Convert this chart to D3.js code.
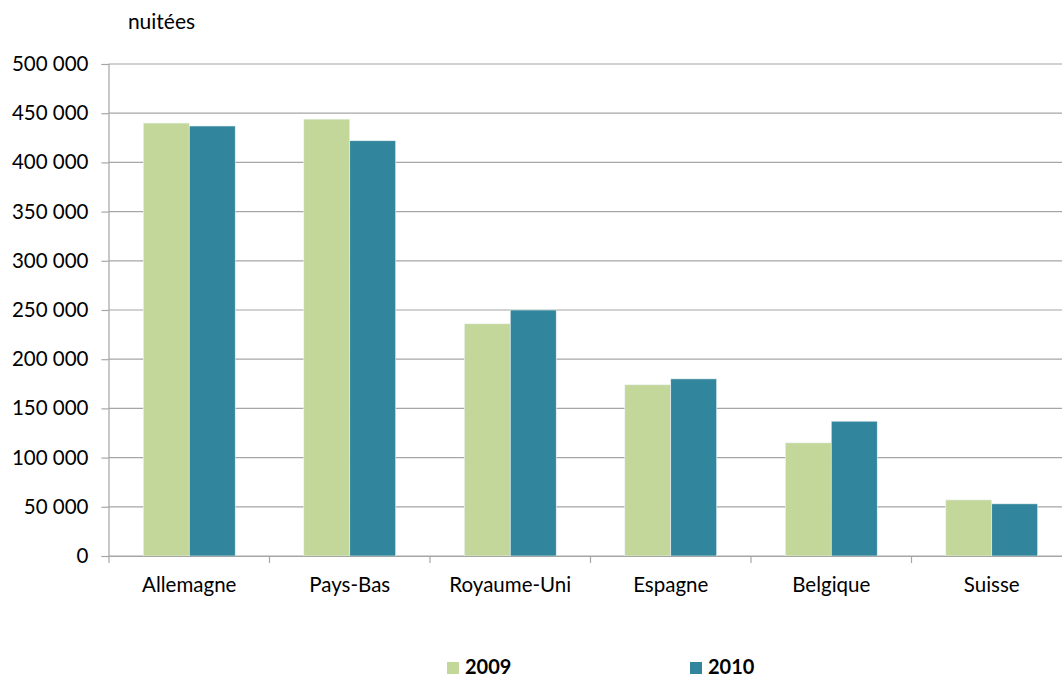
<!DOCTYPE html>
<html>
<head>
<meta charset="utf-8">
<script src="https://cdn.jsdelivr.net/npm/d3@7"></script>
<style>
  html, body { margin: 0; padding: 0; background: #fff; }
  svg { display: block; font-family: Lato, "Open Sans", sans-serif; }
</style>
</head>
<body>
<svg id="chart" width="1062" height="679"></svg>
<script>
// Nuitées par pays de résidence
const categories = ["Allemagne", "Pays-Bas", "Royaume-Uni", "Espagne", "Belgique", "Suisse"];
const seriesNames = ["2009", "2010"];
const values2009 = [440000, 444000, 236000, 174000, 115000, 57000];
const values2010 = [437000, 422000, 250000, 180000, 137000, 53000];
const yTicks = [0, 50000, 100000, 150000, 200000, 250000, 300000, 350000, 400000, 450000, 500000];
const colors = ["#c4d79b", "#31859c"];

const series = [values2009, values2010];
const svg = d3.select("#chart");
const plot = { left: 108.5, right: 1072, top: 64, bottom: 556 };
const fontSize = "20.5px";

const x = d3.scaleBand().domain(categories).range([plot.left + 0.5, plot.right]).paddingInner(0).paddingOuter(0);
const inner = d3.scaleBand().domain(seriesNames).range([0, x.bandwidth()]).paddingInner(0).paddingOuter(0.746);
const y = d3.scaleLinear().domain([0, 500000]).range([plot.bottom, plot.top]);

const fmt = v => d3.format(",")(v).replace(/,/g, " ");

// horizontal gridlines
svg.append("g").selectAll("line").data(yTicks).join("line")
  .attr("x1", plot.left).attr("x2", plot.right)
  .attr("y1", d => y(d)).attr("y2", d => y(d))
  .attr("stroke", "#a6a6a6").attr("stroke-width", 1.2);

// y axis
const yAxis = svg.append("g").attr("transform", `translate(${plot.left},0)`)
  .call(d3.axisLeft(y).tickValues(yTicks).tickFormat(fmt).tickSize(7).tickPadding(13));
yAxis.select(".domain").attr("stroke", "#a6a6a6").attr("stroke-width", 1.2);
yAxis.selectAll(".tick line").attr("stroke", "#a6a6a6").attr("stroke-width", 1.2);
yAxis.selectAll(".tick text").attr("fill", "#000").style("font-size", fontSize).style("font-family", "Lato, sans-serif");

// bars
const groups = svg.append("g").selectAll("g").data(categories).join("g")
  .attr("transform", d => `translate(${x(d)},0)`);
groups.selectAll("rect")
  .data((d, i) => seriesNames.map((s, j) => ({ s, v: series[j][i], c: colors[j] })))
  .join("rect")
  .attr("x", d => inner(d.s))
  .attr("width", inner.bandwidth())
  .attr("y", d => y(d.v))
  .attr("height", d => y(0) - y(d.v))
  .attr("fill", d => d.c)
  .attr("stroke", "#eef4f5").attr("stroke-width", 0.6);

// x axis
const xAxis = svg.append("g").attr("transform", `translate(0,${plot.bottom})`)
  .call(d3.axisBottom(x).tickSize(0).tickPadding(21));
xAxis.select(".domain").attr("stroke", "#a6a6a6").attr("stroke-width", 1.2);
xAxis.selectAll(".tick text").attr("fill", "#000").style("font-size", fontSize).style("font-family", "Lato, sans-serif");
// category separators
svg.append("g").selectAll("line").data(d3.range(categories.length + 1)).join("line")
  .attr("x1", i => x.range()[0] + i * x.step()).attr("x2", i => x.range()[0] + i * x.step())
  .attr("y1", plot.bottom).attr("y2", plot.bottom + 7)
  .attr("stroke", "#a6a6a6").attr("stroke-width", 1.2);

// unit label
svg.append("text").attr("x", 161.5).attr("y", 29).attr("text-anchor", "middle")
  .style("font-size", "21px").style("font-family", "Lato, sans-serif").text("nuitées");

// legend
const legendX = [447, 690];
const legend = svg.append("g").selectAll("g").data(seriesNames).join("g")
  .attr("transform", (d, i) => `translate(${legendX[i]},662)`);
legend.append("rect").attr("width", 12).attr("height", 12).attr("fill", (d, i) => colors[i]);
legend.append("text").attr("x", 18).attr("y", 12)
  .style("font-size", "20px").style("font-weight", "bold").style("font-family", "Lato, sans-serif")
  .text(d => d);
</script>
</body>
</html>
